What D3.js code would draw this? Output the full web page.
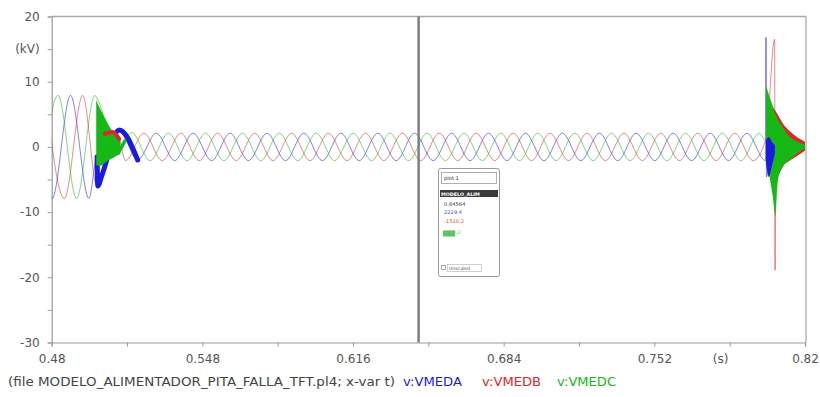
<!DOCTYPE html>
<html><head><meta charset="utf-8">
<script src="https://cdn.jsdelivr.net/npm/d3@7"></script>
<style>
body{margin:0;background:#fff;}
svg{display:block;font-family:"DejaVu Sans",Verdana,sans-serif;}
</style></head><body>
<svg id="chart" width="820" height="397"></svg>
<script>
// ---------- data ----------
const xTicks = [0.48,0.514,0.548,0.582,0.616,0.65,0.684,0.718,0.752,0.786,0.82];
const xTickLabels = ["0.48","","0.548","","0.616","","0.684","","0.752","","0.82"];
const yTicks = [-30,-25,-20,-15,-10,-5,0,5,10,15,20];
const yTickLabels = ["-30","","-20","","-10","","0","","10","(kV)","20"];
const seriesNames = ["v:VMEDA","v:VMEDB","v:VMEDC"];
const seriesColors = ["#1a1ae6","#e02626","#16b816"];

// waveform extrema [t (s), v (kV)]
const vmedA = [[0.4718,7.9],[0.4802,-7.9],[0.4885,7.9],[0.4968,-7.9],[0.5005,-1.5],[0.5008,-6.0],[0.5025,-4.5],[0.5105,2.6],[0.5188,-2.0],[0.5272,2.1],[0.5355,-2.1],[0.5438,2.1],[0.5522,-2.1],[0.5605,2.1],[0.5688,-2.1],[0.5772,2.1],[0.5855,-2.1],[0.5938,2.1],[0.6022,-2.1],[0.6105,2.1],[0.6188,-2.1],[0.6272,2.1],[0.6355,-2.1],[0.6438,2.1],[0.6522,-2.1],[0.6605,2.1],[0.6688,-2.1],[0.6772,2.1],[0.6855,-2.1],[0.6938,2.1],[0.7022,-2.1],[0.7105,2.1],[0.7188,-2.1],[0.7272,2.1],[0.7355,-2.1],[0.7438,2.1],[0.7522,-2.1],[0.7605,2.1],[0.7688,-2.1],[0.7772,2.1],[0.7855,-2.1],[0.7938,2.1],[0.8022,-2.1],[0.8024,16.8],[0.8026,-4.6],[0.8040,-1.0],[0.8060,0.3],[0.8200,0.0]];
const vmedB = [[0.4773,7.9],[0.4857,-7.9],[0.4940,7.9],[0.5005,-6.1],[0.5010,1.2],[0.5040,2.0],[0.5075,2.3],[0.5105,1.2],[0.5133,-2.1],[0.5216,2.1],[0.5299,-2.1],[0.5383,2.1],[0.5466,-2.1],[0.5549,2.1],[0.5633,-2.1],[0.5716,2.1],[0.5799,-2.1],[0.5883,2.1],[0.5966,-2.1],[0.6049,2.1],[0.6133,-2.1],[0.6216,2.1],[0.6299,-2.1],[0.6383,2.1],[0.6466,-2.1],[0.6549,2.1],[0.6633,-2.1],[0.6716,2.1],[0.6799,-2.1],[0.6883,2.1],[0.6966,-2.1],[0.7049,2.1],[0.7133,-2.1],[0.7216,2.1],[0.7299,-2.1],[0.7383,2.1],[0.7466,-2.1],[0.7549,2.1],[0.7633,-2.1],[0.7716,2.1],[0.7799,-2.1],[0.7883,2.1],[0.7966,-2.1],[0.8024,1.3],[0.8063,16.5],[0.8065,-18.9],[0.8067,2.0],[0.8200,0.4]];
const vmedC = [[0.4746,-7.9],[0.4829,7.9],[0.4912,-7.9],[0.4995,7.9],[0.5005,7.4],[0.5100,-1.0],[0.5130,0.9],[0.5161,2.2],[0.5244,-2.1],[0.5327,2.1],[0.5411,-2.1],[0.5494,2.1],[0.5577,-2.1],[0.5661,2.1],[0.5744,-2.1],[0.5827,2.1],[0.5911,-2.1],[0.5994,2.1],[0.6077,-2.1],[0.6161,2.1],[0.6244,-2.1],[0.6327,2.1],[0.6411,-2.1],[0.6494,2.1],[0.6577,-2.1],[0.6661,2.1],[0.6744,-2.1],[0.6827,2.1],[0.6911,-2.1],[0.6994,2.1],[0.7077,-2.1],[0.7161,2.1],[0.7244,-2.1],[0.7327,2.1],[0.7411,-2.1],[0.7494,2.1],[0.7577,-2.1],[0.7661,2.1],[0.7744,-2.1],[0.7827,2.1],[0.7911,-2.1],[0.7994,2.1],[0.8024,0.9],[0.8064,5.0],[0.8065,-10.5],[0.8080,-2.0],[0.8200,0.0]];

// envelopes of dense high-frequency oscillation [t, low, high] (kV)
const greenFaultBand = [[0.5001,-2.8,7.2],[0.5019,-2.9,5.8],[0.5042,-2.4,4.3],[0.5064,-1.9,2.9],[0.5087,-1.5,2.0],[0.5110,-0.9,1.0]];
const redEndBand = [[0.8050,-5.5,6.4],[0.8078,-4.5,4.9],[0.8100,-3.0,3.6],[0.8132,-2.1,2.4],[0.8168,-1.3,1.4],[0.8200,-0.6,0.8]];
const greenEndBand = [[0.8024,-1.0,9.5],[0.8037,-4.0,8.0],[0.8055,-7.7,6.2],[0.8064,-10.0,5.2],[0.8078,-5.0,4.2],[0.8100,-3.0,3.0],[0.8132,-2.0,1.5],[0.8168,-0.9,0.8],[0.8200,-0.2,0.3]];
const blueEndBand = [[0.8024,-2.5,1.0],[0.8037,-4.6,1.5],[0.8050,-3.0,0.8],[0.8064,-1.0,0.3]];

// time ranges where traces are drawn heavy (dense ripple)
const thickRanges = [[0.5005,0.5195],[0.5040,0.5105],[0.5095,0.5140]];

const cursorTime = 0.6456;
const popupRows = ["0.64564","2229.4","-1510.2","-719.2"];
const captionText = "(file MODELO_ALIMENTADOR_PITA_FALLA_TFT.pl4; x-var t)";

// ---------- layout ----------
const svg = d3.select("#chart");
const L = 51.7, R = 805, T = 16.5, B = 342.5;
const x = d3.scaleLinear().domain([0.48,0.82]).range([L,R]);
const y = d3.scaleLinear().domain([-30,20]).range([B,T]);

svg.append("defs").append("clipPath").attr("id","clip")
  .append("rect").attr("x",L).attr("y",T).attr("width",R-L).attr("height",B-T);

// frame (top, right)
svg.append("line").attr("x1",L).attr("x2",R+1).attr("y1",T).attr("y2",T).attr("stroke","#aaa").attr("stroke-width",1.6);
svg.append("line").attr("x1",R+1).attr("x2",R+1).attr("y1",T).attr("y2",B).attr("stroke","#bbb").attr("stroke-width",1.6);

// axes
const xAxis = d3.axisBottom(x).tickValues(xTicks).tickSize(4).tickPadding(8)
  .tickFormat((d,i)=>xTickLabels[i]);
const gx = svg.append("g").attr("transform",`translate(0,${B})`).call(xAxis);
const yAxis = d3.axisLeft(y).tickValues(yTicks).tickSize(4).tickPadding(8)
  .tickFormat((d,i)=>yTickLabels[i]);
const gy = svg.append("g").attr("transform",`translate(${L},0)`).call(yAxis);
[gx,gy].forEach(g=>{
  g.select(".domain").attr("stroke","#999").attr("stroke-width",1.2);
  g.selectAll(".tick line").attr("stroke","#999");
  g.selectAll(".tick text").attr("fill","#555").attr("font-size",12)
    .attr("font-family",'"DejaVu Sans",Verdana,sans-serif');
});
svg.append("text").attr("x",x(0.786)-9).attr("y",B+20.5).attr("text-anchor","middle")
  .attr("fill","#555").attr("font-size",12).text("(s)");

// plot content
const plot = svg.append("g").attr("clip-path","url(#clip)");
const line = d3.line().x(d=>x(d[0])).y(d=>y(d[1])).curve(d3.curveMonotoneX);
const area = d3.area().x(d=>x(d[0])).y0(d=>y(d[1])).y1(d=>y(d[2])).curve(d3.curveMonotoneX);
const allSeries = [vmedA,vmedB,vmedC];

// thin traces
allSeries.forEach((s,i)=>{
  plot.append("path").attr("d",line(s)).attr("fill","none")
    .attr("stroke",seriesColors[i]).attr("stroke-width",1).attr("stroke-opacity",0.55);
});

// cursor line
svg.append("line").attr("x1",x(cursorTime)).attr("x2",x(cursorTime)).attr("y1",T).attr("y2",B)
  .attr("stroke","#7a7a7a").attr("stroke-width",2.4);

function heavy(i){
  const [a,b] = thickRanges[i];
  const seg = allSeries[i].filter(d=>d[0]>=a && d[0]<=b);
  plot.append("path").attr("d",line(seg)).attr("fill","none")
    .attr("stroke",seriesColors[i]).attr("stroke-width",[5,4,3.5][i])
    .attr("stroke-linejoin","round").attr("stroke-linecap","round");
}

// heavy blue ripple lies beneath the green burst
heavy(0);
// dense-oscillation envelopes
plot.append("path").attr("d",area(greenFaultBand)).attr("fill",seriesColors[2]);
heavy(1);
heavy(2);
plot.append("path").attr("d",area(redEndBand)).attr("fill",seriesColors[1]);
plot.append("path").attr("d",area(greenEndBand)).attr("fill",seriesColors[2]);
plot.append("path").attr("d",area(blueEndBand)).attr("fill",seriesColors[0]);

// popup box
const pop = svg.append("g").attr("font-size",5.2).attr("font-family",'"DejaVu Sans",sans-serif');
pop.append("rect").attr("x",438.5).attr("y",168.5).attr("width",61).attr("height",108).attr("rx",2)
  .attr("fill","#fff").attr("stroke","#9a9a9a").attr("stroke-width",1);
pop.append("rect").attr("x",441.5).attr("y",172.5).attr("width",55).attr("height",11)
  .attr("fill","#fff").attr("stroke","#b0b0b0");
pop.append("text").attr("x",444).attr("y",180).attr("fill","#333").text("plot 1");
pop.append("rect").attr("x",440).attr("y",190).attr("width",58).attr("height",7).attr("fill","#3a3a3a");
pop.append("text").attr("x",441).attr("y",195.6).attr("fill","#fff").attr("font-weight","bold").attr("font-size",4.8).text("MODELO_ALIM");
const rowColors = ["#444","#5050d0","#d05050","#40a040"];
popupRows.forEach((t,i)=>{
  if(i===3){ pop.append("rect").attr("x",443).attr("y",230.5).attr("width",12).attr("height",6).attr("fill","#5fc05f"); }
  pop.append("text").attr("x",444).attr("y",206+i*8.3+(i===3?3:0)).attr("fill",i===3?"#7ad07a":rowColors[i]).text(t);
});
pop.append("rect").attr("x",441.5).attr("y",265.5).attr("width",4).attr("height",4).attr("fill","#fff").attr("stroke","#888").attr("stroke-width",0.7);
pop.append("rect").attr("x",447.5).attr("y",264.5).attr("width",34).attr("height",7).attr("fill","#fff").attr("stroke","#bbb").attr("stroke-width",0.7);
pop.append("text").attr("x",449).attr("y",270).attr("fill","#555").attr("font-size",4.6).text("Unscaled");

// caption + legend
svg.append("text").attr("x",8).attr("y",386).attr("font-size",12).attr("fill","#444")
  .attr("textLength",387).attr("lengthAdjust","spacingAndGlyphs").text(captionText);
const legendX = [403,482,557];
seriesNames.forEach((n,i)=>{
  svg.append("text").attr("x",legendX[i]).attr("y",386).attr("font-size",12)
    .attr("fill",seriesColors[i]).attr("textLength",59).attr("lengthAdjust","spacingAndGlyphs").text(n);
});
</script>
</body></html>
